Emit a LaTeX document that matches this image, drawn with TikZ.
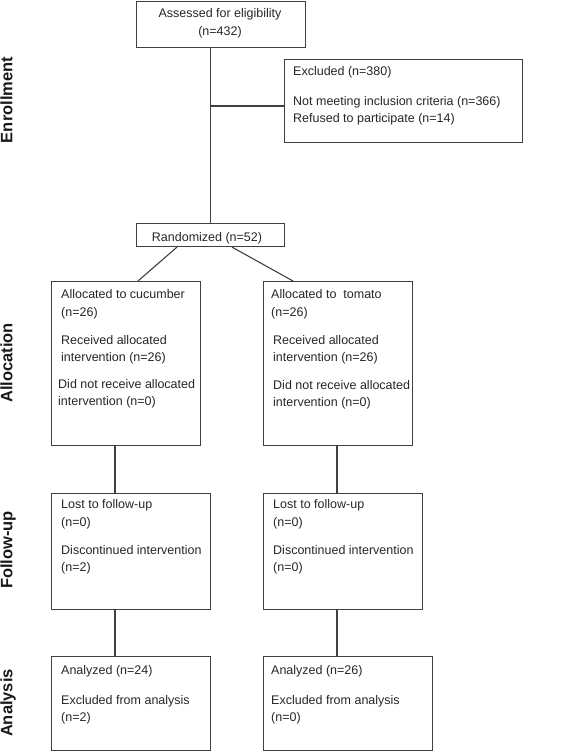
\documentclass[tikz,border=0pt]{standalone}
\usepackage{fontspec}
\setmainfont{Liberation Sans}
\begin{document}
\begin{tikzpicture}[x=1pt,y=-1pt,
  box/.style={draw=black!75,line width=1.1pt,rectangle,anchor=north west,inner sep=0pt},
  conn/.style={draw=black!75,line width=1.1pt},
  txt/.style={anchor=base west,inner sep=0pt,text=black!85,font=\fontsize{12.5}{15}\selectfont},
  ctxt/.style={anchor=base,inner sep=0pt,text=black!85,font=\fontsize{12.5}{15}\selectfont},
  phase/.style={anchor=base,rotate=90,inner sep=0pt,text=black!90,font=\fontsize{16.5}{18}\selectfont\bfseries}]
\useasboundingbox (0,0) rectangle (578,751);
% boxes
\node[box,minimum width=169pt,minimum height=46pt] (assess) at (136,1) {};
\node[box,minimum width=238pt,minimum height=83pt] (excl) at (284,59) {};
\node[box,minimum width=148pt,minimum height=23pt] (rand) at (136,223) {};
\node[box,minimum width=149pt,minimum height=164pt] (alL) at (51,281) {};
\node[box,minimum width=149pt,minimum height=164pt] (alR) at (263,281) {};
\node[box,minimum width=159pt,minimum height=116pt] (fuL) at (51,493) {};
\node[box,minimum width=159pt,minimum height=116pt] (fuR) at (263,493) {};
\node[box,minimum width=159pt,minimum height=94pt] (anL) at (51,656) {};
\node[box,minimum width=169pt,minimum height=94pt] (anR) at (263,656) {};
% connectors
\coordinate (br) at (210,106);
\draw[conn] (assess.south -| rand.north) -- (rand.north);
\draw[conn] (br) -- (br -| excl.west);
\draw[conn] ([xshift=41pt]rand.south west) -- ([xshift=87pt]alL.north west);
\draw[conn] ([xshift=96pt]rand.south west) -- ([xshift=30pt]alR.north west);
\draw[conn] ([xshift=64pt]alL.south west) -- ([xshift=64pt]fuL.north west);
\draw[conn] ([xshift=74pt]alR.south west) -- ([xshift=74pt]fuR.north west);
\draw[conn] ([xshift=64pt]fuL.south west) -- ([xshift=64pt]anL.north west);
\draw[conn] ([xshift=74pt]fuR.south west) -- ([xshift=74pt]anR.north west);
% texts
\node[ctxt] (t1) at (220,18) {Assessed for eligibility};
\node[ctxt] (t2) at (220,36) {(n=432)};
\node[txt] (t3) at (293,76) {Excluded (n=380)};
\node[txt] (t4) at (293,106) {Not meeting inclusion criteria (n=366)};
\node[txt] (t5) at (293,123) {Refused to participate (n=14)};
\node[ctxt] (t6) at (207,241) {Randomized (n=52)};
\node[txt] (t7) at (61,298) {Allocated to cucumber};
\node[txt] (t8) at (61,316) {(n=26)};
\node[txt] (t9) at (61,344) {Received allocated};
\node[txt] (t10) at (61,361) {intervention (n=26)};
\node[txt] (t11) at (58,388) {Did not receive allocated};
\node[txt] (t12) at (58,405) {intervention (n=0)};
\node[txt] (t13) at (271,298) {Allocated to\ \ tomato};
\node[txt] (t14) at (271,316) {(n=26)};
\node[txt] (t15) at (273,344) {Received allocated};
\node[txt] (t16) at (273,361) {intervention (n=26)};
\node[txt] (t17) at (273,389) {Did not receive allocated};
\node[txt] (t18) at (273,406) {intervention (n=0)};
\node[txt] (t19) at (61,508) {Lost to follow-up};
\node[txt] (t20) at (61,526) {(n=0)};
\node[txt] (t21) at (61,554) {Discontinued intervention};
\node[txt] (t22) at (61,571) {(n=2)};
\node[txt] (t23) at (273,508) {Lost to follow-up};
\node[txt] (t24) at (273,526) {(n=0)};
\node[txt] (t25) at (273,554) {Discontinued intervention};
\node[txt] (t26) at (273,571) {(n=0)};
\node[txt] (t27) at (61,674) {Analyzed (n=24)};
\node[txt] (t28) at (61,704) {Excluded from analysis};
\node[txt] (t29) at (61,721) {(n=2)};
\node[txt] (t30) at (271,674) {Analyzed (n=26)};
\node[txt] (t31) at (271,704) {Excluded from analysis};
\node[txt] (t32) at (271,721) {(n=0)};
% phase labels
\node[phase] (p1) at (12.5,100) {Enrollment};
\node[phase] (p2) at (12.5,363) {Allocation};
\node[phase] (p3) at (12.5,550) {Follow-up};
\node[phase] (p4) at (12.5,703) {Analysis};
\end{tikzpicture}
\end{document}
